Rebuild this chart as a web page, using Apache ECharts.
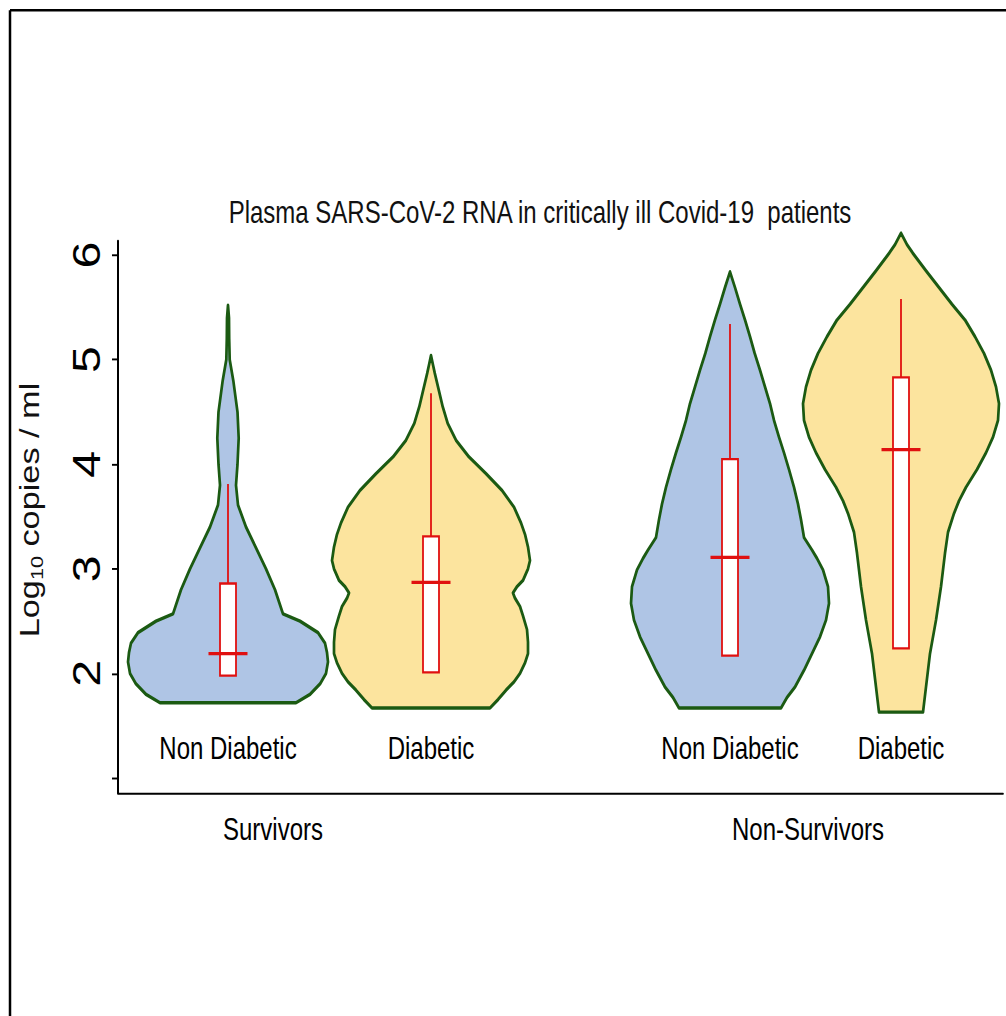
<!DOCTYPE html>
<html>
<head>
<meta charset="utf-8">
<script src="https://cdn.jsdelivr.net/npm/echarts@6/dist/echarts.min.js"></script>
<style>
html,body{margin:0;padding:0;background:#fff;}
#wrap{width:1006px;height:1016px;overflow:hidden;position:relative;}
/* the reference figure is stretched vertically; reproduce that with a vertical scale */
#chart{width:1006px;height:800px;transform:scaleY(1.27);transform-origin:0 0;}
</style>
</head>
<body>
<div id="wrap"><div id="chart"></div></div>
<script>
// ---- data ----
const titleText = 'Plasma SARS-CoV-2 RNA in critically ill Covid-19  patients';
const groupNames = ['Survivors', 'Non-Survivors'];
const groupPos = [1.55, 6.90];
const categories = ['Non Diabetic', 'Diabetic', 'Non Diabetic', 'Diabetic'];
const slotPos = [1.10, 3.13, 6.12, 7.83];
const yTickValues = [1, 2, 3, 4, 5, 6];
const yLabelValues = [2, 3, 4, 5, 6];

// violin profiles: [log10 value, half width]
const violinSurvND = [[1.72,0.68],[1.80,0.82],[1.90,0.92],[2.00,0.98],[2.11,1.00],[2.20,0.99],[2.29,0.97],[2.39,0.90],[2.50,0.72],[2.57,0.55],[2.80,0.47],[3.00,0.38],[3.20,0.28],[3.40,0.18],[3.61,0.10],[3.80,0.08],[4.00,0.095],[4.25,0.107],[4.50,0.095],[4.80,0.053],[5.00,0.017],[5.20,0.012],[5.40,0.010],[5.52,0]];
const violinSurvD = [[1.67,0.59],[1.75,0.67],[1.84,0.75],[1.92,0.83],[2.00,0.89],[2.10,0.94],[2.19,0.97],[2.30,0.97],[2.42,0.96],[2.55,0.92],[2.64,0.89],[2.72,0.84],[2.77,0.82],[2.83,0.86],[2.89,0.92],[3.00,0.97],[3.08,0.99],[3.21,0.97],[3.33,0.94],[3.44,0.90],[3.59,0.83],[3.75,0.71],[3.91,0.55],[4.07,0.38],[4.23,0.25],[4.39,0.167],[4.55,0.117],[4.70,0.08],[4.87,0.038],[4.95,0.02],[5.04,0]];
const violinNonSurvND = [[1.67,0.51],[1.77,0.57],[1.87,0.65],[2.03,0.74],[2.19,0.82],[2.35,0.90],[2.51,0.96],[2.67,0.99],[2.83,0.98],[2.99,0.93],[3.10,0.87],[3.18,0.82],[3.30,0.74],[3.47,0.71],[3.62,0.68],[3.78,0.64],[3.95,0.59],[4.11,0.54],[4.26,0.49],[4.42,0.44],[4.58,0.40],[4.74,0.35],[4.90,0.30],[5.06,0.247],[5.22,0.20],[5.38,0.15],[5.53,0.10],[5.69,0.05],[5.84,0]];
const violinNonSurvD = [[1.63,0.22],[1.87,0.25],[2.19,0.29],[2.51,0.35],[2.83,0.40],[3.15,0.44],[3.35,0.47],[3.53,0.53],[3.65,0.58],[3.78,0.65],[3.95,0.76],[4.11,0.85],[4.26,0.92],[4.42,0.97],[4.58,0.98],[4.74,0.95],[4.90,0.90],[5.06,0.83],[5.22,0.74],[5.38,0.64],[5.53,0.51],[5.69,0.38],[5.85,0.25],[6.02,0.117],[6.10,0.06],[6.21,0]];
const violins = [violinSurvND, violinSurvD, violinNonSurvND, violinNonSurvD];

// box stats: [Q1, median, Q3, upper whisker]
const boxStats = [
  [1.98, 2.19, 2.86, 3.81],
  [2.01, 2.87, 3.31, 4.68],
  [2.17, 3.11, 4.05, 5.34],
  [2.24, 4.14, 4.83, 5.58]
];

// ---- styles ----
const fillColors = ['#afc5e5', '#fce49e', '#afc5e5', '#fce49e'];
const outline = '#1b5a12';
const red = '#e01010';
const sans = '"Liberation Sans", Arial, sans-serif';
const boxHalf = 0.08;
const medHalf = 0.195;

const chart = echarts.init(document.getElementById('chart'), null, {renderer: 'svg', width: 1006, height: 800});

const option = {
  backgroundColor: '#fff',
  animation: false,
  title: {
    text: titleText,
    left: 540,
    textAlign: 'center',
    top: 155,
    padding: 0,
    textStyle: {fontFamily: sans, fontSize: 24, fontWeight: 'normal', color: '#111'}
  },
  graphic: [
    {type: 'line', shape: {x1: 10, y1: 8, x2: 1006, y2: 8}, style: {stroke: '#000', lineWidth: 2}},
    {type: 'line', shape: {x1: 10, y1: 8, x2: 10, y2: 800}, style: {stroke: '#000', lineWidth: 2.5}}
  ],
  grid: {left: 118, right: 3, top: 189.8, bottom: 175.6, containLabel: false},
  xAxis: [
    {
      type: 'value', min: 0, max: 8.85, position: 'bottom',
      axisLine: {show: true, onZero: false, lineStyle: {color: '#000', width: 1.7}},
      axisTick: {show: false},
      splitLine: {show: false},
      axisLabel: {
        show: true, inside: true, margin: 23,
        customValues: slotPos,
        formatter: v => { const i = slotPos.findIndex(p => Math.abs(p - v) < 1e-6); return i >= 0 ? categories[i] : ''; },
        fontFamily: sans, fontSize: 24, color: '#000'
      }
    },
    {
      type: 'value', min: 0, max: 8.85, position: 'bottom',
      axisLine: {show: false},
      axisTick: {show: false},
      splitLine: {show: false},
      axisLabel: {
        show: true, margin: 17,
        customValues: groupPos,
        formatter: v => { const i = groupPos.findIndex(p => Math.abs(p - v) < 1e-6); return i >= 0 ? groupNames[i] : ''; },
        fontFamily: sans, fontSize: 24, color: '#000'
      }
    }
  ],
  yAxis: {
    type: 'value', min: 0.857, max: 6.134,
    axisLine: {show: true, onZero: false, lineStyle: {color: '#000', width: 2}},
    axisTick: {show: true, customValues: yTickValues, length: 6, lineStyle: {color: '#000', width: 1.5}},
    splitLine: {show: false},
    axisLabel: {
      customValues: yLabelValues, rotate: 90, margin: 12,
      fontFamily: sans, fontSize: 38, color: '#000'
    },
    name: '{n|Log}{s|10}{n| copies / ml}',
    nameLocation: 'middle',
    nameGap: 73,
    nameRotate: 90,
    nameTextStyle: {
      color: '#111',
      padding: [0, 0, 0, 11],
      rich: {
        n: {fontFamily: sans, fontSize: 27, color: '#111', lineHeight: 31},
        s: {fontFamily: sans, fontSize: 17, color: '#111', verticalAlign: 'bottom', lineHeight: 18}
      }
    }
  },
  series: [
    {
      type: 'custom',
      name: 'violin',
      xAxisIndex: 0,
      data: violins.map((v, i) => [slotPos[i], i]),
      renderItem: (params, api) => {
        const i = params.dataIndex;
        const prof = violins[i];
        const cx = slotPos[i];
        const right = prof.map(([v, w]) => api.coord([cx + w, v]));
        const left = prof.slice().reverse().map(([v, w]) => api.coord([cx - w, v]));
        return {
          type: 'polygon',
          shape: {points: right.concat(left)},
          style: {fill: fillColors[i], stroke: outline, lineWidth: 2.7, lineJoin: 'round'}
        };
      },
      z: 2
    },
    {
      type: 'custom',
      name: 'box',
      xAxisIndex: 0,
      data: boxStats.map((b, i) => [slotPos[i], b[1]]),
      renderItem: (params, api) => {
        const i = params.dataIndex;
        const [q1, med, q3, wh] = boxStats[i];
        const cx = slotPos[i];
        const pTop = api.coord([cx, wh]);
        const pQ3 = api.coord([cx, q3]);
        const a = api.coord([cx - boxHalf, q3]);
        const b = api.coord([cx + boxHalf, q1]);
        const m1 = api.coord([cx - medHalf, med]);
        const m2 = api.coord([cx + medHalf, med]);
        return {
          type: 'group',
          children: [
            {type: 'line', shape: {x1: pTop[0], y1: pTop[1], x2: pQ3[0], y2: pQ3[1]}, style: {stroke: red, lineWidth: 1.8}},
            {type: 'rect', shape: {x: a[0], y: a[1], width: b[0] - a[0], height: b[1] - a[1]}, style: {fill: '#fff', stroke: red, lineWidth: 1.8}},
            {type: 'line', shape: {x1: m1[0], y1: m1[1], x2: m2[0], y2: m2[1]}, style: {stroke: red, lineWidth: 2.5}}
          ]
        };
      },
      z: 3
    }
  ]
};
chart.setOption(option);
</script>
</body>
</html>
